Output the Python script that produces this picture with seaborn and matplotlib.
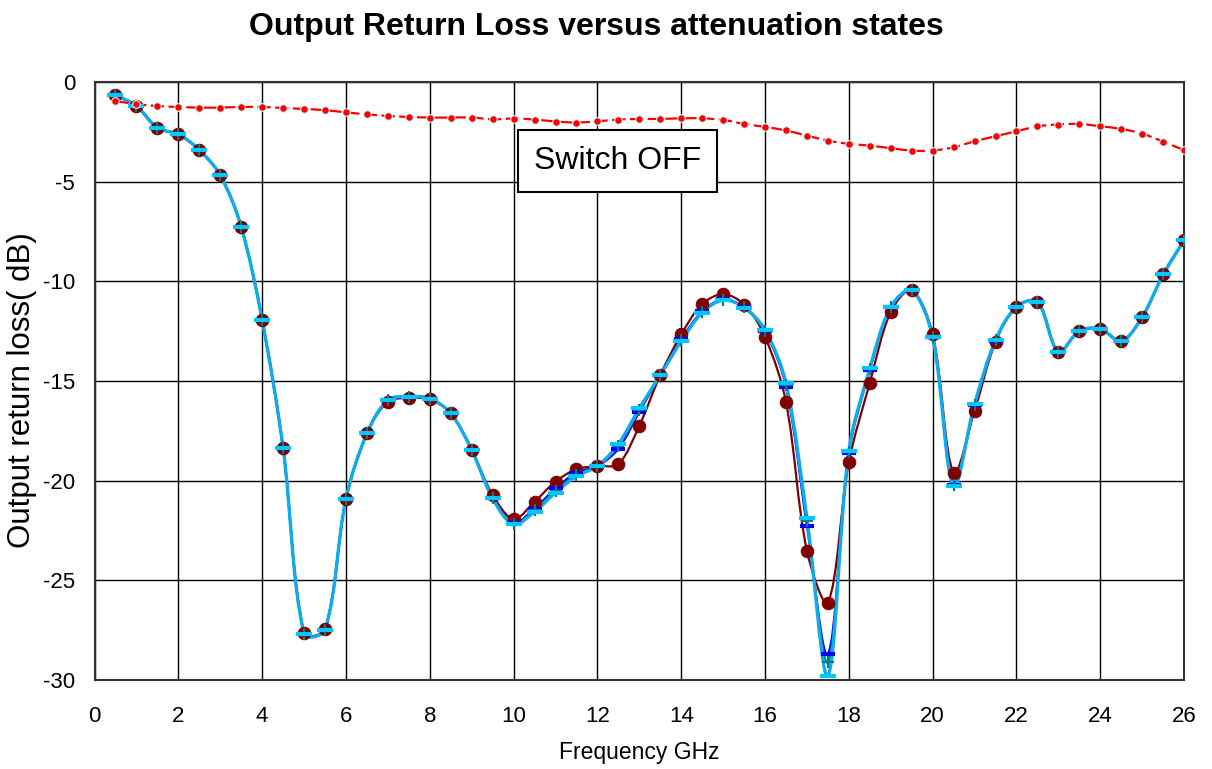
import matplotlib
matplotlib.use('Agg')
import matplotlib.pyplot as plt
from matplotlib.path import Path
from matplotlib.patches import PathPatch
import seaborn as sns

# frequencies (GHz)
freq = [0.5, 1.0, 1.5, 2.0, 2.5, 3.0, 3.5, 4.0, 4.5, 5.0, 5.5, 6.0, 6.5,
        7.0, 7.5, 8.0, 8.5, 9.0, 9.5, 10.0, 10.5, 11.0, 11.5, 12.0, 12.5,
        13.0, 13.5, 14.0, 14.5, 15.0, 15.5, 16.0, 16.5, 17.0, 17.5, 18.0,
        18.5, 19.0, 19.5, 20.0, 20.5, 21.0, 21.5, 22.0, 22.5, 23.0, 23.5,
        24.0, 24.5, 25.0, 25.5, 26.0]

# attenuation states (dB)
state_maroon = [-0.65, -1.19, -2.29, -2.61, -3.40, -4.67, -7.26, -11.94, -18.38, -27.66,
                -27.46, -20.92, -17.63, -16.04, -15.85, -15.92, -16.62, -18.46, -20.72,
                -21.93, -21.06, -20.05, -19.43, -19.27, -19.17, -17.24, -14.70, -12.66,
                -11.14, -10.64, -11.16, -12.78, -16.07, -23.53, -26.12, -19.08, -15.09,
                -11.52, -10.44, -12.66, -19.60, -16.49, -13.03, -11.27, -11.02, -13.53,
                -12.48, -12.38, -13.00, -11.78, -9.65, -7.93]
state_blue = [-0.65, -1.19, -2.29, -2.61, -3.40, -4.67, -7.26, -11.94, -18.38, -27.68,
              -27.48, -20.92, -17.63, -15.97, -15.80, -15.90, -16.62, -18.46, -20.85,
              -22.12, -21.40, -20.39, -19.60, -19.27, -18.40, -16.55, -14.70, -12.90,
              -11.50, -10.90, -11.30, -12.50, -15.29, -22.28, -28.72, -18.60, -14.45,
              -11.30, -10.44, -12.78, -20.20, -16.22, -12.98, -11.27, -11.02, -13.53,
              -12.48, -12.38, -13.00, -11.78, -9.65, -7.93]
state_teal = [-0.65, -1.19, -2.29, -2.61, -3.40, -4.67, -7.26, -11.94, -18.38, -27.69,
              -27.49, -20.92, -17.63, -15.96, -15.79, -15.89, -16.62, -18.46, -20.87,
              -22.16, -21.48, -20.50, -19.70, -19.27, -18.25, -16.45, -14.70, -12.95,
              -11.53, -10.92, -11.30, -12.47, -15.20, -22.05, -29.12, -18.55, -14.40,
              -11.28, -10.44, -12.80, -20.23, -16.18, -12.96, -11.27, -11.02, -13.53,
              -12.48, -12.38, -13.00, -11.78, -9.65, -7.93]
state_cyan = [-0.65, -1.19, -2.29, -2.61, -3.40, -4.67, -7.26, -11.94, -18.38, -27.70,
              -27.50, -20.92, -17.63, -15.95, -15.78, -15.88, -16.62, -18.46, -20.89,
              -22.20, -21.56, -20.60, -19.77, -19.27, -18.16, -16.37, -14.70, -13.00,
              -11.56, -10.94, -11.31, -12.44, -15.12, -21.90, -29.79, -18.50, -14.37,
              -11.27, -10.44, -12.81, -20.27, -16.16, -12.95, -11.27, -11.02, -13.53,
              -12.48, -12.38, -13.00, -11.78, -9.65, -7.93]
# switch OFF state
switch_off = [-0.94, -1.10, -1.19, -1.24, -1.27, -1.27, -1.24, -1.24, -1.29, -1.34,
              -1.40, -1.51, -1.61, -1.69, -1.74, -1.77, -1.77, -1.77, -1.86, -1.82,
              -1.87, -1.97, -2.02, -1.96, -1.87, -1.84, -1.84, -1.81, -1.81, -1.89,
              -2.09, -2.24, -2.42, -2.68, -2.93, -3.09, -3.18, -3.31, -3.43, -3.43,
              -3.26, -2.96, -2.71, -2.46, -2.21, -2.12, -2.09, -2.21, -2.34, -2.58,
              -2.98, -3.41]

x_ticks = [0, 2, 4, 6, 8, 10, 12, 14, 16, 18, 20, 22, 24, 26]
y_ticks = [0, -5, -10, -15, -20, -25, -30]


def smooth_path(xs, ys, sx=41.9, sy=19.9):
    # smoothed line like Excel: cubic bezier through the points,
    # tangents weighted by segment lengths (measured in screen-ish units)
    pts = list(zip(xs, ys))
    n = len(pts)

    def dist(a, b):
        return (((b[0] - a[0]) * sx) ** 2 + ((b[1] - a[1]) * sy) ** 2) ** 0.5

    verts = [pts[0]]
    codes = [Path.MOVETO]
    for i in range(n - 1):
        p0 = pts[i - 1] if i > 0 else pts[i]
        p1 = pts[i]
        p2 = pts[i + 1]
        p3 = pts[i + 2] if i + 2 < n else pts[i + 1]
        d01, d12, d23 = dist(p0, p1), dist(p1, p2), dist(p2, p3)
        f1 = d12 / (d01 + d12) / 3 if d01 > 0 else 1 / 6
        f2 = d12 / (d12 + d23) / 3 if d23 > 0 else 1 / 6
        c1 = (p1[0] + (p2[0] - p0[0]) * f1, p1[1] + (p2[1] - p0[1]) * f1)
        c2 = (p2[0] - (p3[0] - p1[0]) * f2, p2[1] - (p3[1] - p1[1]) * f2)
        verts += [c1, c2, p2]
        codes += [Path.CURVE4] * 3
    return Path(verts, codes)


sns.set_style("white")
plt.rcParams['font.family'] = ['Liberation Sans', 'DejaVu Sans']
plt.rcParams['axes.unicode_minus'] = False
plt.rcParams['text.color'] = 'black'
plt.rcParams['axes.labelcolor'] = 'black'
plt.rcParams['xtick.color'] = 'black'
plt.rcParams['ytick.color'] = 'black'

fig = plt.figure(figsize=(12.12, 7.69), dpi=100)
ax = fig.add_axes([0.078, 0.116, 0.899, 0.777])

series = [
    (state_maroon, '#800000', 1.6, dict(marker='o', markersize=9, markeredgecolor='#800000', markerfacecolor='#800000')),
    (state_blue, '#0000ff', 1.6, dict(marker='_', markersize=10, markeredgewidth=3, markeredgecolor='#0000ff')),
    (state_teal, '#008080', 1.6, dict(marker='+', markersize=9, markeredgewidth=1.5, markeredgecolor='#008080')),
    (state_cyan, '#10aaee', 2.4, dict(marker='_', markersize=12, markeredgewidth=3, markeredgecolor='#00c8ff')),
]
for vals, col, lw, mk in series:
    ax.add_patch(PathPatch(smooth_path(freq, vals), fill=False, ec=col, lw=lw, zorder=2))
    sns.lineplot(x=freq, y=vals, ax=ax, linestyle='none', zorder=3, **mk)

ax.add_patch(PathPatch(smooth_path(freq, switch_off), fill=False, ec='#ff0000',
                       lw=1.6, linestyle=(0, (6, 2)), zorder=2))
sns.lineplot(x=freq, y=switch_off, ax=ax, linestyle='none', marker='o', markersize=5.5,
             markerfacecolor='#ff0000', markeredgecolor='#ccffff', markeredgewidth=0.8, zorder=3)

ax.set_xlim(0, 26)
ax.set_ylim(-30, 0)
ax.set_xticks(x_ticks)
ax.set_yticks(y_ticks)
ax.grid(True, color='black', lw=1)
ax.tick_params(length=0, labelsize=16)
ax.tick_params(axis='x', pad=19)
ax.tick_params(axis='y', pad=14)
for s in ax.spines.values():
    s.set_color('#333333')
    s.set_linewidth(1.5)

ax.text(12.47, -3.96, 'Switch OFF', fontsize=23, ha='center', va='center',
        bbox=dict(boxstyle='square,pad=0.5', fc='white', ec='black', lw=1.5))

ax.set_xlabel('Frequency GHz', fontsize=16.5, labelpad=10)
ax.set_ylabel('Output return loss( dB)', fontsize=22.5)
ax.yaxis.set_label_coords(-0.053, 0.485)
fig.suptitle('Output Return Loss versus attenuation states', fontsize=23,
             fontweight='bold', x=0.492, y=0.985)

fig.savefig('out.png', dpi=100)
